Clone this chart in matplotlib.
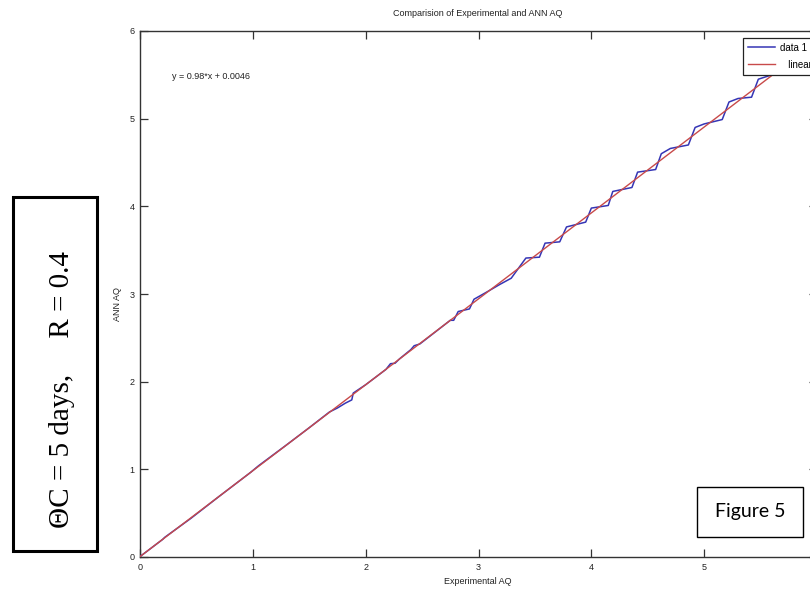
import matplotlib
matplotlib.use("Agg")
import matplotlib.pyplot as plt
from matplotlib.patches import Rectangle
from matplotlib import font_manager
import numpy as np

# Experimental AQ vs ANN-predicted AQ
exp_aq = [0.00, 0.20, 0.22, 0.45, 0.70, 0.98, 1.05, 1.30, 1.50, 1.68, 1.75, 1.82,
          1.877, 1.89, 2.00, 2.18, 2.22, 2.26, 2.30, 2.40, 2.43, 2.48, 2.55, 2.75,
          2.78, 2.82, 2.92, 2.96, 3.07, 3.19, 3.29, 3.42, 3.54, 3.59, 3.72, 3.78,
          3.95, 4.00, 4.15, 4.19, 4.36, 4.41, 4.57, 4.62, 4.70, 4.86, 4.92, 5.00,
          5.16, 5.22, 5.30, 5.42, 5.48, 5.60, 5.68, 5.74, 5.85]
ann_aq = [0.005, 0.20, 0.225, 0.44, 0.69, 0.965, 1.04, 1.28, 1.475, 1.655, 1.70, 1.755,
          1.792, 1.87, 1.965, 2.14, 2.205, 2.21, 2.26, 2.365, 2.41, 2.43, 2.50, 2.70,
          2.70, 2.80, 2.83, 2.94, 3.02, 3.11, 3.18, 3.41, 3.42, 3.58, 3.595, 3.765,
          3.82, 3.98, 4.01, 4.17, 4.215, 4.39, 4.42, 4.60, 4.66, 4.70, 4.90, 4.94,
          4.99, 5.19, 5.23, 5.245, 5.45, 5.50, 5.50, 5.70, 5.74]

# Linear fit reported on the chart
fit_slope = 0.98
fit_intercept = 0.0046

tick_values = [0, 1, 2, 3, 4, 5, 6]
x_tick_labels = ["0", "1", "2", "3", "4", "5", ""]

available = {f.name for f in font_manager.fontManager.ttflist}
narrow = "Liberation Sans Narrow" if "Liberation Sans Narrow" in available else "Liberation Sans"
sans = [narrow, "DejaVu Sans"]

W, H = 810, 591
fig = plt.figure(figsize=(W / 100, H / 100), dpi=100)
fig.patch.set_facecolor("white")

ax = fig.add_axes([140 / W, 34 / H, 677 / W, 526 / H])
ax.set_xlim(0, 6)
ax.set_ylim(0, 6)
ax.set_xticks(tick_values)
ax.set_xticklabels(x_tick_labels)
ax.set_yticks(tick_values)
ax.tick_params(direction="in", top=True, right=True, length=6, width=0.9,
               labelsize=6.5, pad=4, color="#333333", labelcolor="#222222")
for lab in ax.get_xticklabels() + ax.get_yticklabels():
    lab.set_family(sans)
for sp in ax.spines.values():
    sp.set_linewidth(1.0)
    sp.set_color("#333333")

fit_x = np.array([exp_aq[0], exp_aq[-1]])
fit_y = fit_slope * fit_x + fit_intercept

ax.plot(exp_aq, ann_aq, color="#3535b5", lw=1.1, label="data 1", zorder=3)
ax.plot(fit_x, fit_y, color="#c84a4a", lw=1.0, label="   linear", zorder=4)

ax.text(0.28, 5.48, f"y = {fit_slope}*x + {fit_intercept}", fontsize=6.5,
        family=sans, va="center", ha="left", color="#222222")

leg = ax.legend(loc="upper left", bbox_to_anchor=(743 / W, 1 - 38 / H),
                bbox_transform=fig.transFigure, borderaxespad=0, fancybox=False,
                framealpha=1, edgecolor="#222222", prop={"family": sans, "size": 7},
                handlelength=2.8, handletextpad=0.5, borderpad=0.5, labelspacing=0.7)
leg.get_frame().set_linewidth(0.9)

fig.text(478 / W, 1 - 13 / H, "Comparision of Experimental and ANN AQ",
         ha="center", va="center", fontsize=6.5, family=sans, color="#222222")
fig.text(478 / W, 1 - 582 / H, "Experimental AQ", ha="center", va="center",
         fontsize=6.5, family=sans, color="#222222")
fig.text(118 / W, 1 - 304 / H, "ANN AQ", ha="center", va="center", rotation=90,
         fontsize=6.5, family=sans, color="#222222")

# Parameter box on the left
fig.add_artist(Rectangle((13 / W, 1 - 551 / H), 84 / W, 354 / H,
                         transform=fig.transFigure, fill=False, lw=2.2,
                         edgecolor="black"))
fig.text(62 / W, 1 - 389 / H, "ΘC = 5 days,     R = 0.4", rotation=90,
         ha="center", va="center", fontsize=21,
         family=["Liberation Serif", "DejaVu Serif"], color="black")

# Figure caption box
fig.add_artist(Rectangle((697 / W, 1 - 537 / H), 106 / W, 50 / H,
                         transform=fig.transFigure, facecolor="white", lw=1.0,
                         edgecolor="black", zorder=5))
fig.text(750 / W, 1 - 511 / H, "Figure 5", ha="center", va="center",
         fontsize=14, family=["Lato", "DejaVu Sans"], color="black", zorder=6)

fig.savefig("out.png", dpi=100)
